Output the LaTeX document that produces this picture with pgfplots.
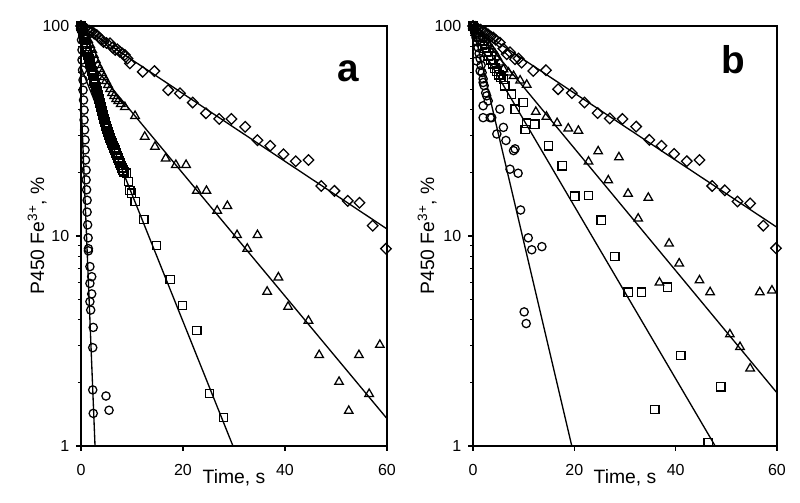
\documentclass[border=0pt]{standalone}
\usepackage{pgfplots}
\pgfplotsset{compat=1.18}
\usepackage{fontspec}
\setmainfont{Liberation Sans}

\pgfplotsset{
  kinax/.style={
    scale only axis, width=229.5pt, height=315pt,
    xmin=0, xmax=60, ymin=1, ymax=100,
    xtick={0,20,40,60}, ytick={1,10,100}, yticklabels={1,10,100},
    minor ytick={2,3,4,5,6,7,8,9,20,30,40,50,60,70,80,90},
    tick align=outside, tick pos=left,
    major tick length=3.75pt, minor tick length=2.25pt,
    every tick/.style={black, line width=0.9pt},
    axis line style={line width=1pt},
    ticklabel style={font=\fontsize{12}{14}\selectfont},
    /pgf/number format/assume math mode=true,
    xticklabel style={yshift=-6.5pt},
    yticklabel style={xshift=-1.5pt},
    label style={font=\fontsize{14.5}{16}\selectfont},
    xlabel={Time, s},
    ylabel={P450 Fe\textsuperscript{3+}, \%},
    xlabel style={at={(axis description cs:0.5,-0.0444)}, anchor=north},
    clip marker paths=false,
  },
  fitline/.style={black, line width=1pt, no marks},
  mkdia/.style={black, only marks, mark=square, mark size=2.8pt, mark options={solid, rotate=45, line width=0.95pt}},
  mktri/.style={black, only marks, mark=triangle, mark size=3.7pt, mark options={solid, line width=0.95pt}},
  mksq/.style={black, only marks, mark=square, mark size=3.1pt, mark options={solid, line width=0.95pt}},
  mkcirc/.style={black, only marks, mark=o, mark size=3.1pt, mark options={solid, line width=0.95pt}},
}

\begin{document}
\begin{tikzpicture}
\path[use as bounding box] (0,0) rectangle (600pt,377.25pt);

% ---------------- panel a ----------------
\begin{axis}[ymode=log, kinax, at={(60.75pt,42.75pt)}, anchor=south west,
  ylabel style={at={(axis description cs:-0.097,0.5)}, anchor=south}]
\addplot[fitline] coordinates {(0,100) (60,10.8)};
\addplot[fitline] coordinates {(0,76) (60,1.35)};
\addplot[fitline] coordinates {(0,63.6) (29.8,1)};
\addplot[fitline] coordinates {(0,45) (2.75,1)};

\addplot[mkdia] coordinates {
(0,100)(0.4,98.5)(0.8,97.5)(1.2,96)(1.6,95)(2.1,94)(2.6,92)(3.1,90.6)(3.6,88)(4.0,86)
(4.4,84)(5.0,83)(5.7,82.7)(6.2,79)(6.7,76.9)(7.1,77.5)(7.6,75.5)(8.1,74)(8.6,72.8)(9.1,70)
(9.6,66.4)(12.1,60.5)(14.4,61)(17.1,49.5)(19.4,47.8)(21.9,43.2)(24.5,38.4)(27.1,36.1)
(29.5,36.1)(32.2,33.1)(34.6,28.6)(37.1,26.9)(39.7,24.5)(42.1,22.7)(44.6,23)(47.1,17.3)
(49.7,16.4)(52.3,14.7)(54.6,14.4)(57.2,11.2)(59.8,8.7)};

\addplot[mktri] coordinates {
(0,100)(0.2,98.9)(0.6,94.7)(1.0,90.6)(1.4,85.8)(1.8,81.2)(2.2,76.9)(2.5,72.8)(2.9,68.9)
(3.3,65.2)(3.7,62.4)(4.1,59.7)(4.5,57.1)(4.9,54.7)(5.3,52.4)(5.7,50.1)(6.1,48)(6.5,46.4)
(6.9,44.9)(7.3,43.9)(7.8,42.5)(8.6,41.1)(10.6,37.3)(12.5,29.7)(14.5,26.6)(16.6,23.4)
(18.6,21.8)(20.6,21.8)(22.7,16.4)(24.6,16.4)(26.7,13.2)(28.7,13.9)(30.6,10.1)(32.6,8.7)
(34.6,10.1)(36.5,5.43)(38.7,6.35)(40.6,4.6)(44.6,3.95)(46.7,2.71)(50.6,2.02)(52.5,1.47)
(54.5,2.71)(56.5,1.77)(58.6,3.03)};

\addplot[mksq] coordinates {
(0,100)(0.1,99)(0.2,97.8)(0.3,95)(0.4,92.6)(0.5,90)(0.6,87.7)(0.7,85.8)(0.8,83.9)(0.9,82)
(1.0,80.3)(1.1,78)(1.2,76.1)(1.3,74.4)(1.4,72.8)(1.5,71)(1.6,69.6)(1.7,68)(1.8,66.7)
(1.9,65.2)(2.0,63.8)(2.1,62.4)(2.2,61.1)(2.3,59.8)(2.4,58.5)(2.5,56)(2.6,54.7)(2.7,53.5)
(2.8,52.4)(2.9,51.3)(3.0,50.1)(3.1,49)(3.2,47.9)(3.3,46.9)(3.4,45.9)(3.5,44.9)(3.6,43.9)
(3.7,43)(3.8,42)(3.9,41.1)(4.0,40.2)(4.1,39.4)(4.2,38.5)(4.3,37.7)(4.4,36.9)(4.5,36.1)
(4.6,35.5)(4.7,34.9)(4.8,34.1)(4.9,33.4)(5.0,32.9)(5.1,32.4)(5.2,31.8)(5.3,31.3)(5.4,30.8)
(5.5,30.3)(5.6,29.8)(5.7,29.3)(5.9,28.5)(6.1,27.7)(6.3,27)(6.5,26.3)(6.7,25.6)(6.9,24.9)
(7.1,24.2)(7.3,23.5)(7.5,22.9)(7.6,22.3)(7.8,21.7)(8.0,21.1)(8.2,20.6)(8.4,20.2)(8.95,19.9)
(9.3,18.2)(9.6,16.5)(9.9,16)(10.6,14.6)(12.35,12)(14.8,9.0)(17.5,6.2)(19.9,4.66)(22.7,3.54)
(25.2,1.78)(27.9,1.37)};

\addplot[mkcirc] coordinates {
(0,100)(0,95.7)(0.1,85.8)(0.2,76.9)(0.2,68.9)(0.3,61.7)(0.4,55.3)(0.4,49.5)(0.5,44.4)
(0.6,39.8)(0.6,35.7)(0.7,32)(0.8,28.7)(0.8,25.7)(0.9,23)(1.0,20.6)(1.0,18.5)(1.1,16.6)
(1.2,14.8)(1.2,13)(1.3,11.3)(1.4,9.8)(1.45,8.7)(1.45,8.5)(1.75,7.15)(2.1,6.4)(1.75,5.95)
(2.1,5.3)(1.75,4.87)(1.9,4.44)(2.4,3.67)(2.3,2.94)(2.3,1.85)(4.9,1.73)(2.4,1.43)(5.5,1.48)};

\node[anchor=base west, font=\bfseries\fontsize{29}{30}\selectfont]
  at (axis description cs:0.8235,0.8667) {a};
\end{axis}

% ---------------- panel b ----------------
\begin{axis}[ymode=log, kinax, at={(354.75pt,42.75pt)}, anchor=south west, width=228pt,
  ylabel style={at={(axis description cs:-0.104,0.5)}, anchor=south}]
\addplot[fitline] coordinates {(0,100) (60,11)};
\addplot[fitline] coordinates {(0,100) (60,1.79)};
\addplot[fitline] coordinates {(0,92) (47.8,1)};
\addplot[fitline] coordinates {(0,100) (19.5,1)};

\addplot[mkdia] coordinates {
(0,100)(0.5,99)(1,97)(1.5,96)(2,94)(2.5,93)(3,91)(3.5,89)(4,88)(4.5,86)(5.3,83.3)(6,78)
(6.65,73.4)(7.3,75)(8.3,69.5)(9,70)(9.6,66.9)(11.9,61.1)(14.4,61.6)(16.8,50)(19.5,47.9)
(22.0,43.2)(24.6,38.5)(27.0,36.3)(29.5,36.1)(32.2,33.2)(34.8,28.7)(37.2,26.9)(39.7,24.6)
(42.2,22.7)(44.7,23)(47.2,17.3)(49.7,16.5)(52.2,14.6)(54.7,14.3)(57.3,11.2)(59.8,8.75)};

\addplot[mktri] coordinates {
(0,100)(0.3,98)(0.8,95)(1.3,92)(1.8,89)(2.3,86)(2.8,83)(3.3,80)(3.8,77)(4.3,74)(4.8,71)
(5.3,67)(6.0,62.2)(7,60)(8.0,57.8)(9.3,55)(10.6,52.5)(12.4,39)(14.5,37)(16.6,34.5)
(18.8,32.5)(20.8,31.7)(22.8,22.6)(24.7,25.3)(26.7,18.4)(28.8,23.7)(30.6,15.9)(32.6,12.1)
(34.6,15.2)(36.8,6.0)(38.7,9.2)(40.7,7.4)(44.7,6.15)(46.8,5.4)(50.7,3.4)(52.7,2.96)
(54.7,2.34)(56.6,5.4)(59.0,5.5)};

\addplot[mksq] coordinates {
(0,100)(0.3,97)(0.7,93)(1.1,89)(1.5,85)(1.9,81)(2.3,78)(2.7,75)(3.1,72)(3.5,69)(3.9,66)
(4.3,63)(4.7,61)(5.1,58.5)(5.5,57)(6.0,55.8)(6.3,51.9)(7.6,47.4)(8.3,40.2)(9.9,43.3)
(10.3,32.1)(10.6,34.5)(12.2,34.1)(14.9,26.9)(17.6,21.6)(20.1,15.5)(22.8,15.6)(25.3,11.9)
(28.0,8.0)(30.6,5.4)(33.3,5.4)(35.9,1.49)(38.4,5.7)(41.0,2.7)(46.4,1.04)(48.9,1.91)};

\addplot[mkcirc] coordinates {
(0,100)(0.2,96)(0.4,92)(0.6,88)(0.7,68.2)(0.8,84)(1.0,79)(1.2,74)(1.4,70)(1.4,61.1)
(1.6,65)(1.8,60)(2.0,56)(2.0,53.8)(2.0,41.7)(2.0,36.6)(2.2,52)(2.5,48)(2.7,46.5)(3.0,44)
(3.4,36.6)(3.7,36.6)(4.7,30.6)(5.3,40.2)(6.0,32.9)(6.5,28.5)(7.3,20.8)(8.0,25.5)(8.3,26)
(8.9,19.9)(9.4,13.3)(10.1,4.35)(10.5,3.83)(10.9,9.8)(11.6,8.6)(13.6,8.9)};

\node[anchor=base west, font=\bfseries\fontsize{29}{30}\selectfont]
  at (axis description cs:0.8026,0.888) {b};
\end{axis}
\end{tikzpicture}
\end{document}
